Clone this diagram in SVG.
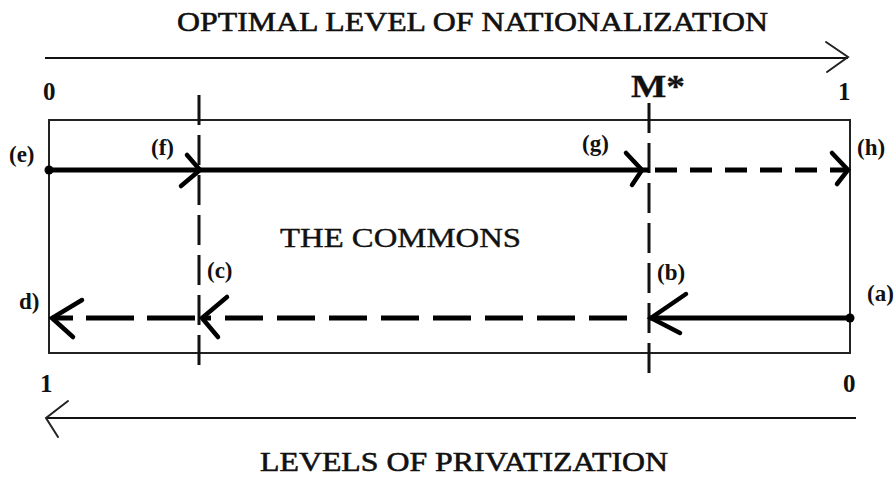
<svg xmlns="http://www.w3.org/2000/svg" width="896" height="477" viewBox="0 0 896 477">
<style>
text { font-family: "Liberation Serif", "Times New Roman", serif; fill: #111; }
.title { font-size: 28px; font-weight: normal; stroke: #111; stroke-width: 0.6; }
.lbl { font-size: 23px; font-weight: bold; }
.num { font-size: 25px; font-weight: bold; }
.axis { stroke: #111; stroke-width: 2; fill: none; }
.thin { stroke: #222; stroke-width: 2; fill: none; stroke-linecap: round; }
.solid { stroke: #000; stroke-width: 5; fill: none; }
.dash { stroke: #000; stroke-width: 5; fill: none; stroke-dasharray: 22 13; }
.dashb { stroke: #000; stroke-width: 5; fill: none; stroke-dasharray: 38 14; }
.vdash { stroke: #111; stroke-width: 3; fill: none; stroke-dasharray: 30 10; }
.head { stroke: #000; stroke-width: 4.5; fill: none; stroke-linecap: round; }
</style>

<g id="title-top">
<text class="title" x="177" y="31" textLength="591" lengthAdjust="spacingAndGlyphs">OPTIMAL LEVEL OF NATIONALIZATION</text>
</g>
<g id="title-bottom">
<text class="title" x="260" y="471" textLength="408" lengthAdjust="spacingAndGlyphs">LEVELS OF PRIVATIZATION</text>
</g>

<g id="commons">
<rect x="49" y="120" width="801" height="233" fill="none" stroke="#222" stroke-width="2"/>
<text class="title" x="280" y="247" textLength="241" lengthAdjust="spacingAndGlyphs" style="font-size:27px;stroke-width:0.4">THE COMMONS</text>
</g>

<g id="scale-labels">
<text class="num" x="43" y="100">0</text>
<text class="num" x="838" y="100">1</text>
<text class="num" x="40" y="392">1</text>
<text class="num" x="843" y="392">0</text>
<text class="title" x="631" y="97" textLength="54" lengthAdjust="spacingAndGlyphs" style="font-size:31px;font-weight:bold;stroke-width:0.3">M*</text>
</g>

<g id="point-labels">
<text class="lbl" x="9" y="162">(e)</text>
<text class="lbl" x="151" y="155">(f)</text>
<text class="lbl" x="582" y="151">(g)</text>
<text class="lbl" x="857" y="155">(h)</text>
<text class="lbl" x="19" y="309">d)</text>
<text class="lbl" x="207" y="278">(c)</text>
<text class="lbl" x="657" y="280">(b)</text>
<text class="lbl" x="867" y="301">(a)</text>
</g>

<g id="connectors">
<!-- top axis -->
<line class="axis" x1="45" y1="58" x2="848" y2="58"/>
<polyline class="thin" points="826,42 848,57 827,72"/>
<!-- bottom axis -->
<line class="axis" x1="46" y1="418" x2="856" y2="418"/>
<polyline class="thin" points="68,401 46,418 58,437"/>
<!-- vertical dashed lines -->
<line class="vdash" x1="199" y1="95" x2="199" y2="375"/>
<line class="vdash" x1="649" y1="103" x2="649" y2="375"/>
<!-- top flow e -> h -->
<line class="solid" x1="49" y1="170" x2="649" y2="170"/>
<line class="dash" x1="655" y1="170" x2="846" y2="170"/>
<circle cx="49" cy="170" r="4.5" fill="#000"/>
<polyline class="head" points="187,155 200,170 181,186"/>
<polyline class="head" points="626,153 642,170 632,185"/>
<polyline class="head" points="832,153 848,170 837,184"/>
<!-- bottom flow a -> d -->
<line class="solid" x1="850" y1="318" x2="650" y2="318"/>
<line class="dashb" x1="627" y1="318" x2="202" y2="318"/>
<line class="dashb" x1="195" y1="318" x2="52" y2="318" style="stroke-dasharray:48 13"/>
<circle cx="850" cy="318" r="4.5" fill="#000"/>
<polyline class="head" points="686,294 651,318 680,333"/>
<polyline class="head" points="227,297 202,318 218,337"/>
<polyline class="head" points="82,300 52,318 73,337"/>
</g>
</svg>
